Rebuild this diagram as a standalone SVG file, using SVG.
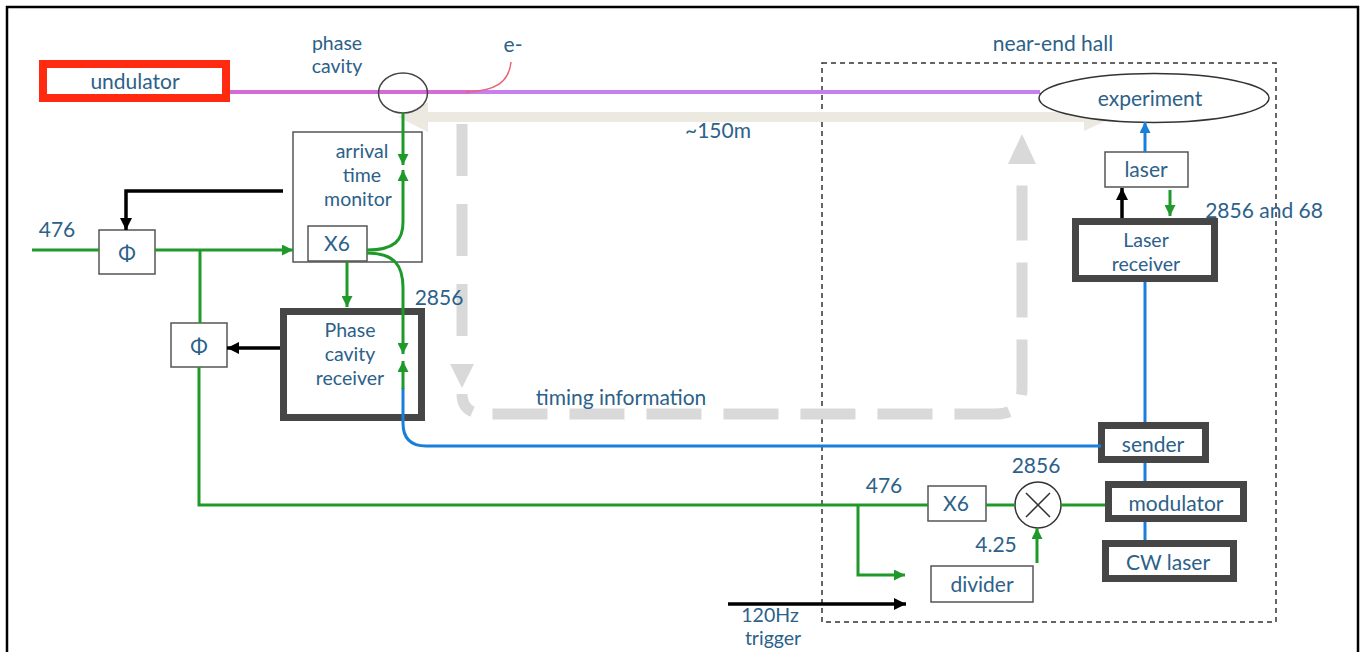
<svg xmlns="http://www.w3.org/2000/svg" width="1365" height="652" viewBox="0 0 1365 652">
<defs>
<marker id="ag" viewBox="0 0 10 10" refX="10" refY="5" markerWidth="11" markerHeight="11" markerUnits="userSpaceOnUse" orient="auto"><path d="M0,0 L10,5 L0,10 z" fill="#1f9a2a"/></marker>
<marker id="ak" viewBox="0 0 10 10" refX="10" refY="5" markerWidth="12" markerHeight="12" markerUnits="userSpaceOnUse" orient="auto"><path d="M0,0 L10,5 L0,10 z" fill="#000"/></marker>
<marker id="ab" viewBox="0 0 10 10" refX="10" refY="5" markerWidth="11" markerHeight="11" markerUnits="userSpaceOnUse" orient="auto"><path d="M0,0 L10,5 L0,10 z" fill="#1a7fd8"/></marker>
</defs>
<style>
text{font-family:Lato,"Open Sans","Liberation Sans",sans-serif;font-size:21px;fill:#2c6189;text-anchor:middle}
.ml{font-size:19.5px}
.thin{fill:#fff;stroke:#555;stroke-width:1.5}
.thick{fill:#fff;stroke:#464646;stroke-width:7}
.g{fill:none;stroke:#1f9a2a;stroke-width:3}
.k{fill:none;stroke:#000;stroke-width:3.5}
.b{fill:none;stroke:#1a7fd8;stroke-width:3}
.gd{fill:none;stroke:#d9d9d9;stroke-width:11}
</style>
<rect x="7" y="7" width="1351" height="680" fill="#fff" stroke="#000" stroke-width="2.5"/>

<g id="hall">
<rect x="822" y="63" width="454" height="559" fill="none" stroke="#333" stroke-width="1.5" stroke-dasharray="5,4"/>
<text x="1053" y="51">near-end hall</text>
</g>

<g id="beams">
<path d="M227,92 L470,92" stroke="#d66ad8" stroke-width="4" fill="none"/>
<path d="M470,92 L1040,92" stroke="#c57ff2" stroke-width="4" fill="none"/>
<path d="M511,62 C509,82 496,91 466,92" stroke="#ee6070" stroke-width="1.5" fill="none"/>
<text x="513" y="52">e-</text>
</g>

<g id="distance">
<path d="M398,117 L428,102 L428,112 L1084,112 L1084,105 L1110,119 L1084,131 L1084,122 L428,122 L428,132 Z" fill="#ece9e1"/>
<text x="718" y="138">~150m</text>
</g>

<g id="timing">
<path class="gd" d="M462,124 L462,364" stroke-dasharray="52,28"/>
<path d="M450,364 L474,364 L462,388 Z" fill="#d9d9d9"/>
<path class="gd" d="M462,394 Q462,414 486,414 L996,414 Q1022,414 1022,388 L1022,162" stroke-dasharray="22,20,55,22,55,22,55,22,55,22,55,22,55,22,55,22,55,22,55,22,55,22,55,22"/>
<path d="M1008,164 L1036,164 L1022,134 Z" fill="#d9d9d9"/>
<text x="621" y="405">timing information</text>
</g>

<g id="undulator">
<rect x="43" y="64" width="183" height="34" fill="#fff" stroke="#ff2a10" stroke-width="8"/>
<text x="135" y="89">undulator</text>
</g>

<g id="phase-cavity">
<ellipse cx="403" cy="93" rx="24.5" ry="20" fill="none" stroke="#444" stroke-width="1.5"/>
<text class="ml" x="337" y="50">phase</text>
<text class="ml" x="337" y="73">cavity</text>
</g>

<g id="arrival-time-monitor">
<rect class="thin" x="293" y="132" width="129" height="130"/>
<text class="ml" x="362" y="158">arrival</text>
<text class="ml" x="362" y="182">time</text>
<text class="ml" x="358" y="206">monitor</text>
</g>
<g id="x6-left">
<rect class="thin" x="308" y="226" width="59" height="35"/>
<text x="337" y="251">X6</text>
</g>

<g id="phase-cavity-receiver">
<rect class="thick" x="283.5" y="311.5" width="138" height="106"/>
<text class="ml" x="350" y="337">Phase</text>
<text class="ml" x="350" y="361">cavity</text>
<text class="ml" x="350" y="385">receiver</text>
</g>

<g id="phi1">
<rect class="thin" x="99" y="230" width="56" height="44"/>
<text x="127" y="261" font-size="23">Φ</text>
</g>
<g id="phi2">
<rect class="thin" x="171" y="323" width="56" height="44"/>
<text x="199" y="354" font-size="23">Φ</text>
</g>
<text x="57" y="237">476</text>
<text x="439" y="305">2856</text>

<g id="experiment">
<ellipse cx="1154" cy="98" rx="115" ry="24.5" fill="#fff" stroke="#333" stroke-width="1.5"/>
<text x="1150" y="106">experiment</text>
</g>
<g id="laser">
<rect class="thin" x="1105" y="152" width="83" height="35"/>
<text x="1146" y="177">laser</text>
</g>
<text x="1264" y="218">2856 and 68</text>
<g id="laser-receiver">
<rect class="thick" x="1075.5" y="221.5" width="139" height="57"/>
<text class="ml" x="1146" y="247">Laser</text>
<text class="ml" x="1146" y="271">receiver</text>
</g>
<g id="sender">
<rect class="thick" x="1101.5" y="425.5" width="104" height="34"/>
<text x="1153" y="452">sender</text>
</g>
<g id="modulator">
<rect class="thick" x="1108.5" y="484.5" width="135" height="34"/>
<text x="1176" y="511">modulator</text>
</g>
<g id="cw-laser">
<rect class="thick" x="1105.5" y="543.5" width="128" height="35"/>
<text x="1168" y="570">CW laser</text>
</g>

<g id="x6-right">
<rect class="thin" x="928" y="486" width="58" height="35"/>
<text x="956" y="511">X6</text>
</g>
<text x="884" y="493">476</text>
<g id="mixer">
<circle cx="1038" cy="505" r="23" fill="#fff" stroke="#333" stroke-width="1.5"/>
<path d="M1026,493 L1050,517 M1050,493 L1026,517" stroke="#333" stroke-width="1.5"/>
</g>
<text x="1036" y="473">2856</text>
<text x="996" y="552">4.25</text>
<g id="divider">
<rect class="thin" x="931" y="566" width="102" height="36"/>
<text x="982" y="592">divider</text>
</g>
<g id="trigger-label">
<text class="ml" x="770" y="622">120Hz</text>
<text class="ml" x="773" y="645">trigger</text>
</g>

<g id="connectors">
<path class="g" d="M403,113 L403,165" marker-end="url(#ag)"/>
<path class="g" d="M367,250 C395,250 403,240 403,222 L403,170" marker-end="url(#ag)"/>
<path class="g" d="M367,253 C395,253 403,266 403,288 L403,354" marker-end="url(#ag)"/>
<path class="b" d="M1101,446 L426,446 Q403,446 403,423 L403,388"/>
<path class="g" d="M403,389 L403,361" marker-end="url(#ag)"/>
<path class="g" d="M347,262 L347,307" marker-end="url(#ag)"/>
<path class="g" d="M32,250 L99,250"/>
<path class="g" d="M155,250 L293,250" marker-end="url(#ag)"/>
<path class="g" d="M200,250 L200,323"/>
<path class="g" d="M199,367 L199,505 L928,505"/>
<path class="g" d="M858,505 L858,575 L905,575" marker-end="url(#ag)"/>
<path class="g" d="M986,505 L1015,505"/>
<path class="g" d="M1061,505 L1105,505"/>
<path class="g" d="M1037,563 L1037,528" marker-end="url(#ag)"/>
<path class="k" d="M283,191 L126,191 L126,230" marker-end="url(#ak)"/>
<path class="k" d="M280,348 L227,348" marker-end="url(#ak)"/>
<path class="k" d="M728,604 L906,604" marker-end="url(#ak)"/>
<path class="k" d="M1122,218 L1122,188" marker-end="url(#ak)"/>
<path class="g" d="M1170,190 L1170,216" marker-end="url(#ag)"/>
<path class="b" d="M1145,152 L1145,122" marker-end="url(#ab)"/>
<path class="b" d="M1145,282 L1145,422"/>
<path class="b" d="M1145,463 L1145,481"/>
<path class="b" d="M1145,522 L1145,540"/>
</g>
</svg>
